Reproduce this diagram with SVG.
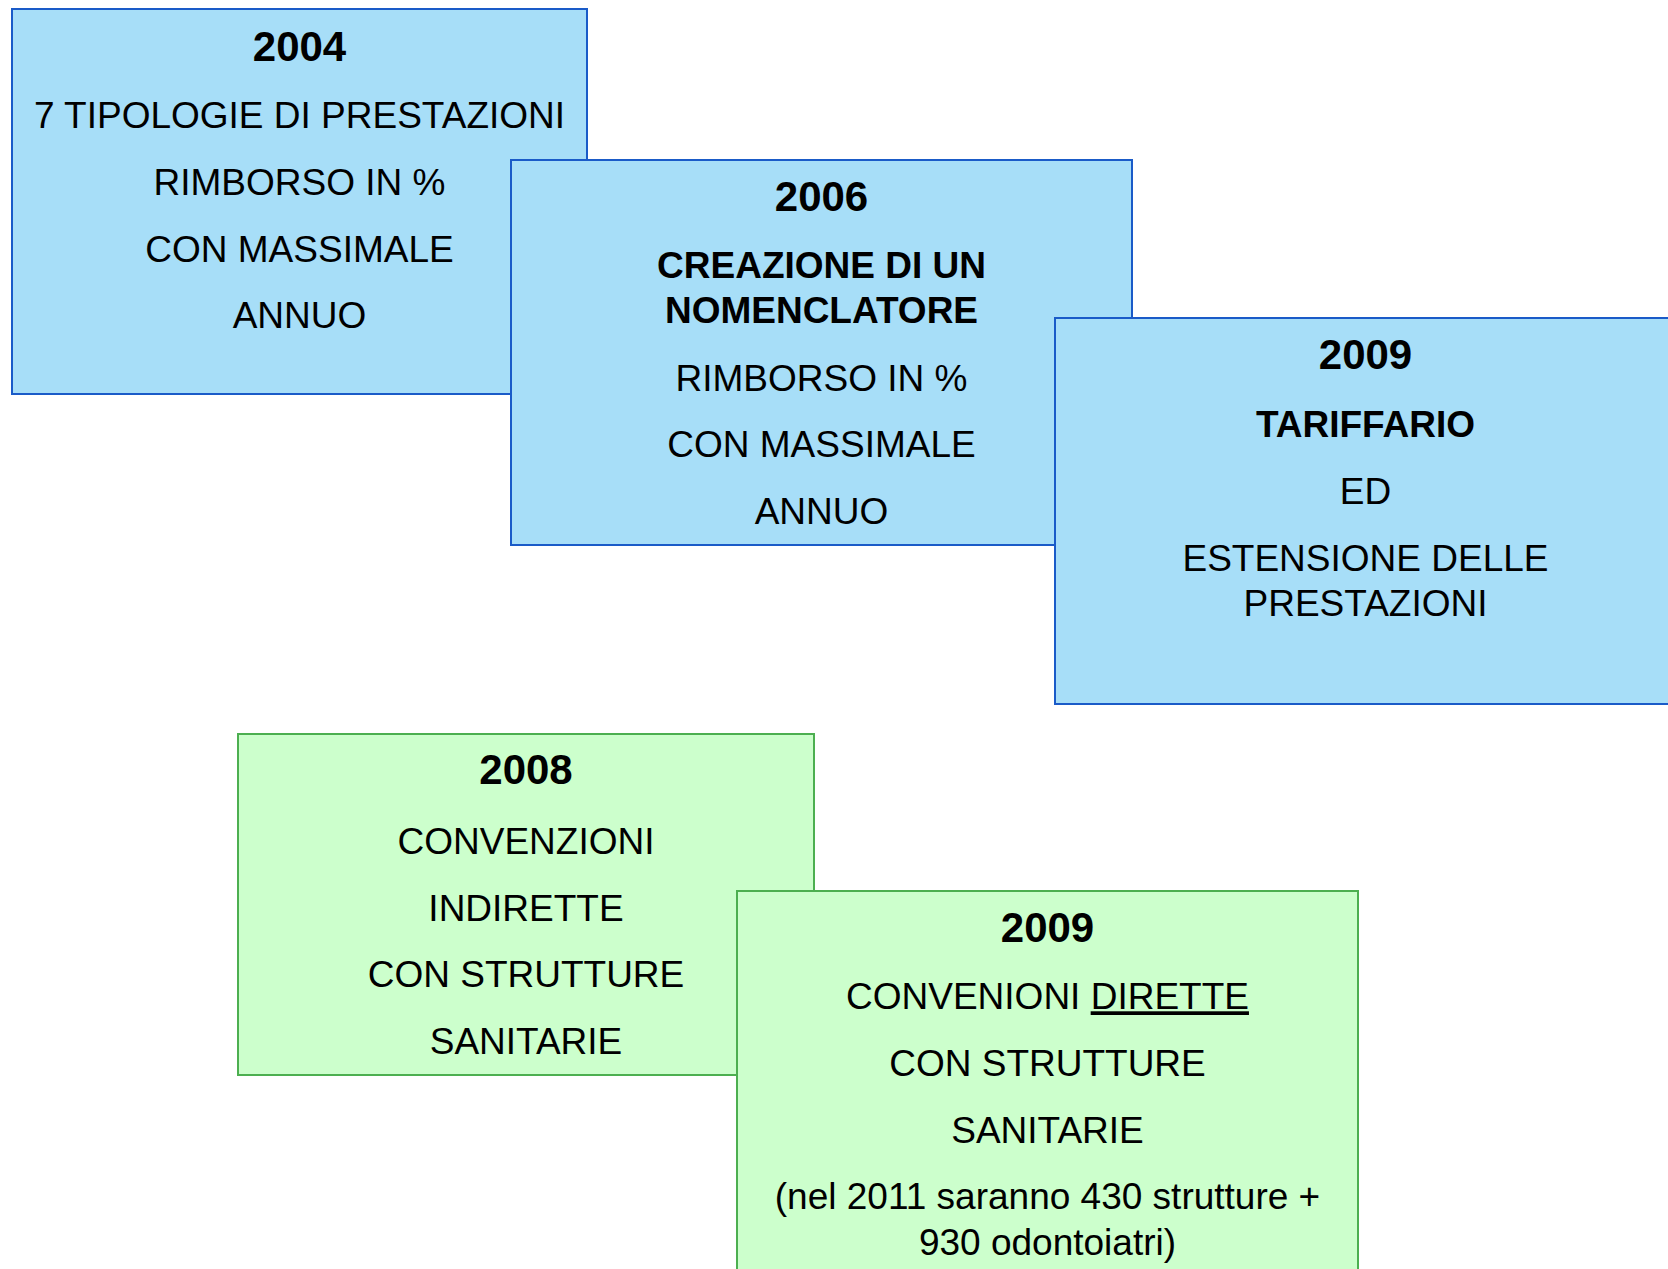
<svg xmlns="http://www.w3.org/2000/svg" width="1668" height="1269" viewBox="0 0 1668 1269">
<style>
.blue{fill:#A7DEF8;stroke:#1A5BC8;stroke-width:2}
.green{fill:#CCFFCC;stroke:#4CAF50;stroke-width:2}
text{font-family:"Liberation Sans",Arial,sans-serif;fill:#000;text-anchor:middle;font-size:37px}
.yr{font-weight:bold;font-size:42px}
.b{font-weight:bold}
</style>
<rect width="1668" height="1269" fill="#FFFFFF"/>
<g id="connectors"/>
<g id="n2004">
<rect class="blue" x="12" y="9" width="575" height="385"/>
<text class="yr" x="299.5" y="60.7">2004</text>
<text x="299.5" y="128.3">7 TIPOLOGIE DI PRESTAZIONI</text>
<text x="299.5" y="195">RIMBORSO IN %</text>
<text x="299.5" y="261.7">CON MASSIMALE</text>
<text x="299.5" y="328.3">ANNUO</text>
</g>
<g id="n2006">
<rect class="blue" x="511" y="160" width="621" height="385"/>
<text class="yr" x="821.5" y="210.7">2006</text>
<text class="b" x="821.5" y="278.3">CREAZIONE DI UN</text>
<text class="b" x="821.5" y="323.3">NOMENCLATORE</text>
<text x="821.5" y="390.7">RIMBORSO IN %</text>
<text x="821.5" y="456.7">CON MASSIMALE</text>
<text x="821.5" y="524">ANNUO</text>
</g>
<g id="n2009a">
<rect class="blue" x="1055" y="318" width="621" height="386"/>
<text class="yr" x="1365.5" y="369.3">2009</text>
<text class="b" x="1365.5" y="437.3">TARIFFARIO</text>
<text x="1365.5" y="504">ED</text>
<text x="1365.5" y="570.7">ESTENSIONE DELLE</text>
<text x="1365.5" y="616">PRESTAZIONI</text>
</g>
<g id="n2008">
<rect class="green" x="238" y="734" width="576" height="341"/>
<text class="yr" x="526" y="784">2008</text>
<text x="526" y="854">CONVENZIONI</text>
<text x="526" y="920.7">INDIRETTE</text>
<text x="526" y="987.3">CON STRUTTURE</text>
<text x="526" y="1054">SANITARIE</text>
</g>
<g id="n2009b">
<rect class="green" x="737" y="891" width="621" height="390"/>
<text class="yr" x="1047.5" y="941.7">2009</text>
<text x="1047.5" y="1009.3">CONVENIONI <tspan text-decoration="underline">DIRETTE</tspan></text>
<text x="1047.5" y="1076">CON STRUTTURE</text>
<text x="1047.5" y="1142.7">SANITARIE</text>
<text x="1047.5" y="1209.3">(nel 2011 saranno 430 strutture +</text>
<text x="1047.5" y="1255">930 odontoiatri)</text>
</g>
</svg>
